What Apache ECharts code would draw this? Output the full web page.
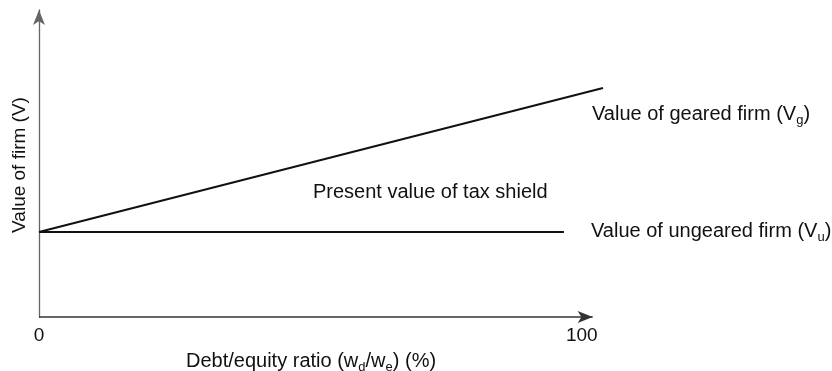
<!DOCTYPE html>
<html>
<head>
<meta charset="utf-8">
<script src="https://cdn.jsdelivr.net/npm/echarts@6/dist/echarts.min.js"></script>
<style>
  html, body { margin: 0; padding: 0; background: #fff; }
  #main { width: 832px; height: 371px; }
</style>
</head>
<body>
<div id="main"></div>
<script>
// debt/equity ratio (%) and firm value (arbitrary units)
var xTicks = [0, 100];
var xAxisEnd = 102;
var gearedX = [0, 103.9];
var gearedV = [85, 229];
var ungearedX = [0, 96.7];
var ungearedV = [85, 85];

var chart = echarts.init(document.getElementById('main'));
var font = 'Liberation Sans, Arial, sans-serif';
var rich = {
    sub: { fontSize: 13, fontFamily: font, color: '#111', padding: [12, 0, 0, 0] }
};

chart.setOption({
    backgroundColor: '#fff',
    animation: false,
    grid: { left: 39, right: 229, top: 10, bottom: 54 },
    xAxis: {
        type: 'value',
        min: 0,
        max: 103.9,
        axisLine: { show: false },
        axisTick: { show: false },
        splitLine: { show: false },
        axisLabel: {
            customValues: xTicks,
            color: '#111',
            fontSize: 19,
            fontFamily: font,
            margin: 9
        }
    },
    yAxis: {
        type: 'value',
        min: 0,
        max: 307,
        axisLine: {
            show: true,
            symbol: ['none', 'arrow'],
            symbolSize: [9, 15],
            lineStyle: { color: '#666', width: 1.3 }
        },
        axisTick: { show: false },
        splitLine: { show: false },
        axisLabel: { show: false }
    },
    series: [
        {
            name: 'geared',
            type: 'line',
            symbol: 'none',
            lineStyle: { color: '#111', width: 2 },
            data: gearedX.map(function (x, i) { return [x, gearedV[i]]; }),
            markLine: {
                silent: true,
                symbol: ['none', 'arrow'],
                symbolSize: [9, 15],
                label: { show: false },
                lineStyle: { color: '#333', width: 1.5, type: 'solid' },
                data: [[{ coord: [0, 0] }, { coord: [xAxisEnd, 0] }]]
            }
        },
        {
            name: 'ungeared',
            type: 'line',
            symbol: 'none',
            lineStyle: { color: '#111', width: 2 },
            data: ungearedX.map(function (x, i) { return [x, ungearedV[i]]; })
        }
    ],
    graphic: [
        {
            type: 'text', left: 592, top: 104,
            style: { text: 'Value of geared firm (V{sub|g})', font: '20px ' + font, fill: '#111', rich: rich }
        },
        {
            type: 'text', left: 591, top: 221,
            style: { text: 'Value of ungeared firm (V{sub|u})', font: '20px ' + font, fill: '#111', rich: rich }
        },
        {
            type: 'text', left: 313, top: 182,
            style: { text: 'Present value of tax shield', font: '20px ' + font, fill: '#111' }
        },
        {
            type: 'text', left: 186, top: 351,
            style: { text: 'Debt/equity ratio (w{sub|d}/w{sub|e}) (%)', font: '20px ' + font, fill: '#111', rich: rich }
        },
        {
            type: 'text', x: 20, y: 165, rotation: Math.PI / 2,
            style: { text: 'Value of firm (V)', font: '19px ' + font, fill: '#111', align: 'center', verticalAlign: 'middle' }
        }
    ]
});
</script>
</body>
</html>
